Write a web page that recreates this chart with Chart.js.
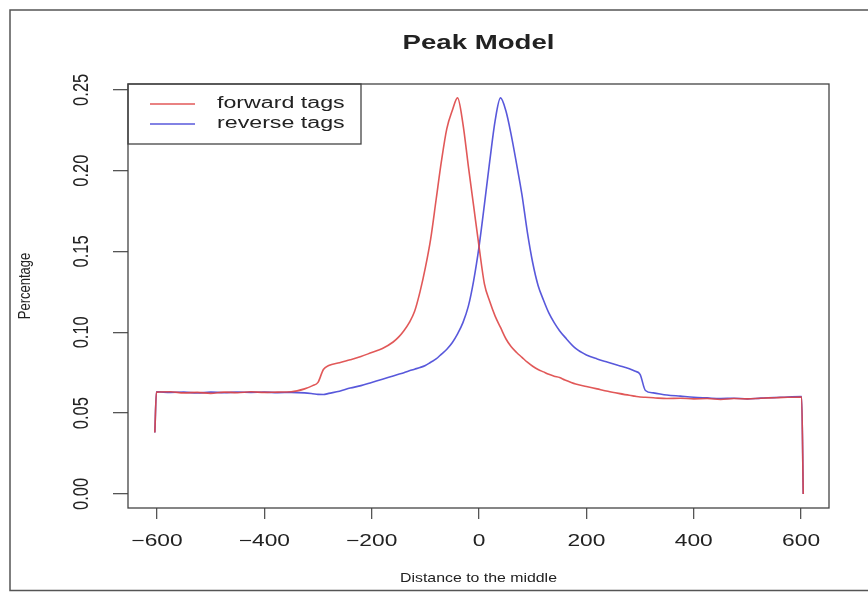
<!DOCTYPE html>
<html>
<head>
<meta charset="utf-8">
<script src="https://cdn.jsdelivr.net/npm/chart.js@4"></script>
<style>
  body { margin: 0; background: #fff; }
  canvas { display: block; }
</style>
</head>
<body>
<canvas id="graf" width="868" height="592"></canvas>
<script>
// distance to the middle (bp)
var distance = [-604, -601, -575, -550, -525, -500, -475, -450, -425, -400, -375, -350, -325, -310, -300, -290, -280, -260, -240, -220,
    -200, -180, -160, -150, -140, -130, -120, -110, -100, -90, -80, -70, -60, -50, -40, -30, -20, -10, 0, 10,
    20, 30, 40, 50, 60, 70, 80, 90, 100, 110, 120, 130, 140, 150, 160, 180, 200, 220, 240, 260,
    280, 290, 300, 310, 325, 350, 375, 400, 425, 450, 475, 500, 525, 550, 575, 601, 604];

var forward_list = [0.038, 0.0630, 0.0632, 0.0625, 0.0628, 0.0622, 0.0630, 0.0626, 0.0632, 0.0628, 0.0630, 0.0632, 0.0650, 0.0670, 0.0690, 0.0770, 0.0795, 0.0812, 0.0830, 0.0850,
    0.0875, 0.0900, 0.0940, 0.0970, 0.1010, 0.1060, 0.1130, 0.1250, 0.1400, 0.1580, 0.1820, 0.2060, 0.2260, 0.2370, 0.2450, 0.2290, 0.2030, 0.1780, 0.1530, 0.1300,
    0.1190, 0.1100, 0.1030, 0.0960, 0.0910, 0.0875, 0.0845, 0.0815, 0.0790, 0.0770, 0.0755, 0.0740, 0.0728, 0.0720, 0.0705, 0.0680, 0.0665, 0.0650, 0.0635, 0.0622,
    0.0610, 0.0605, 0.0600, 0.0598, 0.0595, 0.0590, 0.0592, 0.0588, 0.0590, 0.0584, 0.0590, 0.0588, 0.0592, 0.0595, 0.0598, 0.0600, 0.0];

var reverse_list = [0.038, 0.0632, 0.0628, 0.0630, 0.0624, 0.0630, 0.0626, 0.0630, 0.0628, 0.0630, 0.0627, 0.0628, 0.0625, 0.0620, 0.0616, 0.0615, 0.0622, 0.0635, 0.0655, 0.0670,
    0.0690, 0.0710, 0.0730, 0.0740, 0.0750, 0.0762, 0.0772, 0.0782, 0.0795, 0.0815, 0.0835, 0.0865, 0.0895, 0.0935, 0.0990, 0.1060, 0.1160, 0.1320, 0.1530, 0.1790,
    0.2060, 0.2310, 0.2450, 0.2370, 0.2220, 0.2040, 0.1850, 0.1620, 0.1430, 0.1290, 0.1200, 0.1120, 0.1060, 0.1010, 0.0970, 0.0900, 0.0860, 0.0835, 0.0815, 0.0795,
    0.0775, 0.0760, 0.0740, 0.0640, 0.0625, 0.0612, 0.0605, 0.0598, 0.0594, 0.0590, 0.0592, 0.0588, 0.0593, 0.0596, 0.0600, 0.0602, 0.0];

var x_ticks = [-600, -400, -200, 0, 200, 400, 600];
var y_ticks = [0.00, 0.05, 0.10, 0.15, 0.20, 0.25];
var series_names = ['forward tags', 'reverse tags'];

function points(ys) {
    return distance.map(function (d, i) { return {x: d, y: ys[i]}; });
}

// text in the picture is stretched sideways, so draw it with a scale
function stretchText(ctx, text, x, y, font, sx, align, rot) {
    ctx.save();
    ctx.translate(x, y);
    ctx.scale(sx, 1);
    if (rot) ctx.rotate(-Math.PI / 2);
    ctx.font = font;
    ctx.fillStyle = '#222';
    ctx.textAlign = align;
    ctx.textBaseline = 'middle';
    ctx.fillText(text, 0, 0);
    ctx.restore();
}

var FONT = '"Liberation Sans", Arial, sans-serif';

var rPlot = {
    id: 'rPlot',
    beforeDraw: function (chart) {
        var ctx = chart.ctx;
        ctx.save();
        ctx.strokeStyle = '#555';
        ctx.lineWidth = 1.5;
        ctx.strokeRect(10, 10, 1000, 580.5);
        ctx.restore();
    },
    afterDraw: function (chart) {
        var ctx = chart.ctx;
        var a = chart.chartArea;
        var sx = chart.scales.x, sy = chart.scales.y;

        // box
        ctx.save();
        ctx.strokeStyle = '#444';
        ctx.lineWidth = 1.3;
        ctx.strokeRect(a.left, a.top, a.right - a.left, a.bottom - a.top);
        ctx.restore();

        // tick labels
        sx.ticks.forEach(function (t) {
            var s = t.value < 0 ? '\u2212' + Math.abs(t.value) : String(t.value);
            stretchText(ctx, s, sx.getPixelForValue(t.value), 541, '16.5px ' + FONT, 1.38, 'center', false);
        });
        sy.ticks.forEach(function (t) {
            stretchText(ctx, t.value.toFixed(2), 82, sy.getPixelForValue(t.value), '16.5px ' + FONT, 1.38, 'center', true);
        });

        // titles
        stretchText(ctx, 'Peak Model', (a.left + a.right) / 2, 43.5, 'bold 20px ' + FONT, 1.38, 'center', false);
        stretchText(ctx, 'Distance to the middle', (a.left + a.right) / 2, 578, '13px ' + FONT, 1.22, 'center', false);
        stretchText(ctx, 'Percentage', 26, 286, '13px ' + FONT, 1.25, 'center', true);

        // legend
        ctx.save();
        ctx.strokeStyle = '#444';
        ctx.lineWidth = 1.3;
        ctx.strokeRect(a.left, a.top, 233, 60);
        chart.data.datasets.forEach(function (ds, i) {
            var y = 104 + i * 20;
            ctx.strokeStyle = ds.borderColor;
            ctx.lineWidth = 1.6;
            ctx.beginPath();
            ctx.moveTo(150, y);
            ctx.lineTo(195, y);
            ctx.stroke();
            stretchText(ctx, ds.label, 217, y, '16px ' + FONT, 1.45, 'left', false);
        });
        ctx.restore();
    }
};

var graf = new Chart(document.getElementById('graf'), {
    type: 'line',
    data: {
        datasets: [{
            label: series_names[0],
            data: points(forward_list),
            borderColor: 'rgba(222, 70, 70, 0.9)',
            borderWidth: 1.6,
            pointRadius: 0,
            cubicInterpolationMode: 'monotone',
            fill: false
        }, {
            label: series_names[1],
            data: points(reverse_list),
            borderColor: 'rgba(70, 70, 215, 0.9)',
            borderWidth: 1.6,
            pointRadius: 0,
            cubicInterpolationMode: 'monotone',
            fill: false
        }]
    },
    options: {
        responsive: false,
        animation: false,
        layout: {
            autoPadding: false,
            padding: {left: 0, right: 39, top: 84, bottom: 0}
        },
        plugins: {
            legend: {display: false},
            title: {display: false},
            tooltip: {enabled: false}
        },
        scales: {
            x: {
                type: 'linear',
                min: -654,
                max: 652,
                afterBuildTicks: function (s) { s.ticks = x_ticks.map(function (v) { return {value: v}; }); },
                afterFit: function (s) { s.height = 84; },
                ticks: {display: false},
                grid: {drawOnChartArea: false, tickLength: 11, color: '#555', lineWidth: 1.3},
                border: {display: false}
            },
            y: {
                type: 'linear',
                min: -0.0087,
                max: 0.2536,
                afterBuildTicks: function (s) { s.ticks = y_ticks.map(function (v) { return {value: v}; }); },
                afterFit: function (s) { s.width = 128; },
                ticks: {display: false},
                grid: {drawOnChartArea: false, tickLength: 15, color: '#555', lineWidth: 1.3},
                border: {display: false}
            }
        }
    },
    plugins: [rPlot]
});
</script>
</body>
</html>
